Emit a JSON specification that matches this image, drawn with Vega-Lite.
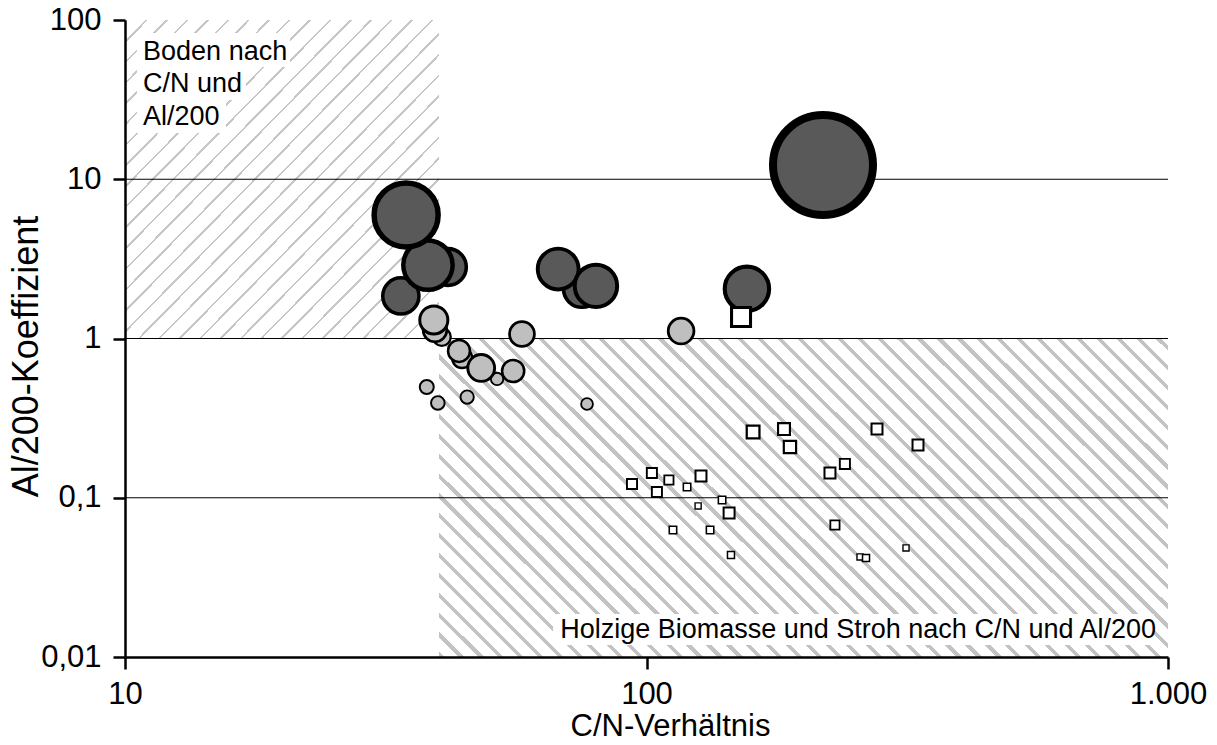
{
  "$schema": "https://vega.github.io/schema/vega-lite/v6.json",
  "width": 1043,
  "height": 637,
  "autosize": {"type": "none"},
  "padding": {"left": 125, "top": 20, "right": 49, "bottom": 88},
  "background": "white",
  "config": {
    "view": {"stroke": null},
    "font": "Liberation Sans",
    "axis": {
      "grid": false,
      "domainColor": "black",
      "domainWidth": 2.5,
      "tickColor": "black",
      "tickWidth": 2.5,
      "tickSize": 12,
      "labelFont": "Liberation Sans",
      "labelFontSize": 31,
      "labelColor": "black",
      "titleFont": "Liberation Sans",
      "titleFontSize": 31,
      "titleFontWeight": "normal",
      "titleColor": "black",
      "labelOverlap": false,
      "labelFlush": false
    }
  },
  "resolve": {"scale": {"strokeWidth": "independent"}},
  "layer": [
    {
      "data": {"values": [{"x1": 10, "x2": 40, "y1": 1, "y2": 100}]},
      "mark": {"type": "rect", "strokeWidth": 0, "fill": {"gradient": "linear", "x1": 0, "y1": 0, "x2": 1, "y2": 1, "stops": [
        {"offset": 0, "color": "#c6c6c6"}, {"offset": 0.004, "color": "#c6c6c6"}, {"offset": 0.004, "color": "#fff"}, {"offset": 0.0325, "color": "#fff"},
        {"offset": 0.0325, "color": "#c6c6c6"}, {"offset": 0.0365, "color": "#c6c6c6"}, {"offset": 0.0365, "color": "#fff"}, {"offset": 0.065, "color": "#fff"},
        {"offset": 0.065, "color": "#c6c6c6"}, {"offset": 0.069, "color": "#c6c6c6"}, {"offset": 0.069, "color": "#fff"}, {"offset": 0.0975, "color": "#fff"},
        {"offset": 0.0975, "color": "#c6c6c6"}, {"offset": 0.1015, "color": "#c6c6c6"}, {"offset": 0.1015, "color": "#fff"}, {"offset": 0.13, "color": "#fff"},
        {"offset": 0.13, "color": "#c6c6c6"}, {"offset": 0.134, "color": "#c6c6c6"}, {"offset": 0.134, "color": "#fff"}, {"offset": 0.1625, "color": "#fff"},
        {"offset": 0.1625, "color": "#c6c6c6"}, {"offset": 0.1665, "color": "#c6c6c6"}, {"offset": 0.1665, "color": "#fff"}, {"offset": 0.195, "color": "#fff"},
        {"offset": 0.195, "color": "#c6c6c6"}, {"offset": 0.199, "color": "#c6c6c6"}, {"offset": 0.199, "color": "#fff"}, {"offset": 0.2275, "color": "#fff"},
        {"offset": 0.2275, "color": "#c6c6c6"}, {"offset": 0.2315, "color": "#c6c6c6"}, {"offset": 0.2315, "color": "#fff"}, {"offset": 0.26, "color": "#fff"},
        {"offset": 0.26, "color": "#c6c6c6"}, {"offset": 0.264, "color": "#c6c6c6"}, {"offset": 0.264, "color": "#fff"}, {"offset": 0.2925, "color": "#fff"},
        {"offset": 0.2925, "color": "#c6c6c6"}, {"offset": 0.2965, "color": "#c6c6c6"}, {"offset": 0.2965, "color": "#fff"}, {"offset": 0.325, "color": "#fff"},
        {"offset": 0.325, "color": "#c6c6c6"}, {"offset": 0.329, "color": "#c6c6c6"}, {"offset": 0.329, "color": "#fff"}, {"offset": 0.3575, "color": "#fff"},
        {"offset": 0.3575, "color": "#c6c6c6"}, {"offset": 0.3615, "color": "#c6c6c6"}, {"offset": 0.3615, "color": "#fff"}, {"offset": 0.39, "color": "#fff"},
        {"offset": 0.39, "color": "#c6c6c6"}, {"offset": 0.394, "color": "#c6c6c6"}, {"offset": 0.394, "color": "#fff"}, {"offset": 0.4225, "color": "#fff"},
        {"offset": 0.4225, "color": "#c6c6c6"}, {"offset": 0.4265, "color": "#c6c6c6"}, {"offset": 0.4265, "color": "#fff"}, {"offset": 0.455, "color": "#fff"},
        {"offset": 0.455, "color": "#c6c6c6"}, {"offset": 0.459, "color": "#c6c6c6"}, {"offset": 0.459, "color": "#fff"}, {"offset": 0.4875, "color": "#fff"},
        {"offset": 0.4875, "color": "#c6c6c6"}, {"offset": 0.4915, "color": "#c6c6c6"}, {"offset": 0.4915, "color": "#fff"}, {"offset": 0.52, "color": "#fff"},
        {"offset": 0.52, "color": "#c6c6c6"}, {"offset": 0.524, "color": "#c6c6c6"}, {"offset": 0.524, "color": "#fff"}, {"offset": 0.5525, "color": "#fff"},
        {"offset": 0.5525, "color": "#c6c6c6"}, {"offset": 0.5565, "color": "#c6c6c6"}, {"offset": 0.5565, "color": "#fff"}, {"offset": 0.585, "color": "#fff"},
        {"offset": 0.585, "color": "#c6c6c6"}, {"offset": 0.589, "color": "#c6c6c6"}, {"offset": 0.589, "color": "#fff"}, {"offset": 0.6175, "color": "#fff"},
        {"offset": 0.6175, "color": "#c6c6c6"}, {"offset": 0.6215, "color": "#c6c6c6"}, {"offset": 0.6215, "color": "#fff"}, {"offset": 0.65, "color": "#fff"},
        {"offset": 0.65, "color": "#c6c6c6"}, {"offset": 0.654, "color": "#c6c6c6"}, {"offset": 0.654, "color": "#fff"}, {"offset": 0.6825, "color": "#fff"},
        {"offset": 0.6825, "color": "#c6c6c6"}, {"offset": 0.6865, "color": "#c6c6c6"}, {"offset": 0.6865, "color": "#fff"}, {"offset": 0.715, "color": "#fff"},
        {"offset": 0.715, "color": "#c6c6c6"}, {"offset": 0.719, "color": "#c6c6c6"}, {"offset": 0.719, "color": "#fff"}, {"offset": 0.7475, "color": "#fff"},
        {"offset": 0.7475, "color": "#c6c6c6"}, {"offset": 0.7515, "color": "#c6c6c6"}, {"offset": 0.7515, "color": "#fff"}, {"offset": 0.78, "color": "#fff"},
        {"offset": 0.78, "color": "#c6c6c6"}, {"offset": 0.784, "color": "#c6c6c6"}, {"offset": 0.784, "color": "#fff"}, {"offset": 0.8125, "color": "#fff"},
        {"offset": 0.8125, "color": "#c6c6c6"}, {"offset": 0.8165, "color": "#c6c6c6"}, {"offset": 0.8165, "color": "#fff"}, {"offset": 0.845, "color": "#fff"},
        {"offset": 0.845, "color": "#c6c6c6"}, {"offset": 0.849, "color": "#c6c6c6"}, {"offset": 0.849, "color": "#fff"}, {"offset": 0.8775, "color": "#fff"},
        {"offset": 0.8775, "color": "#c6c6c6"}, {"offset": 0.8815, "color": "#c6c6c6"}, {"offset": 0.8815, "color": "#fff"}, {"offset": 0.91, "color": "#fff"},
        {"offset": 0.91, "color": "#c6c6c6"}, {"offset": 0.914, "color": "#c6c6c6"}, {"offset": 0.914, "color": "#fff"}, {"offset": 0.9425, "color": "#fff"},
        {"offset": 0.9425, "color": "#c6c6c6"}, {"offset": 0.9465, "color": "#c6c6c6"}, {"offset": 0.9465, "color": "#fff"}, {"offset": 0.975, "color": "#fff"},
        {"offset": 0.975, "color": "#c6c6c6"}, {"offset": 0.979, "color": "#c6c6c6"}, {"offset": 0.979, "color": "#fff"}, {"offset": 1, "color": "#fff"}
      ]}},
      "encoding": {
        "x": {"field": "x1", "type": "quantitative", "scale": {"type": "log", "domain": [10, 1000]}, "title": "C/N-Verhältnis"},
        "x2": {"field": "x2"},
        "y": {"field": "y1", "type": "quantitative", "scale": {"type": "log", "domain": [0.01, 100]}, "title": "Al/200-Koeffizient"},
        "y2": {"field": "y2"}
      }
    },
    {
      "data": {"values": [{"x1": 40, "x2": 1000, "y1": 0.01, "y2": 1}]},
      "mark": {"type": "rect", "strokeWidth": 0, "fill": {"gradient": "linear", "x1": 0, "y1": 1, "x2": 1.2066, "y2": 0.4713, "stops": [
        {"offset": 0, "color": "#c3c3c3"}, {"offset": 0.005, "color": "#c3c3c3"}, {"offset": 0.005, "color": "#fff"}, {"offset": 0.019, "color": "#fff"},
        {"offset": 0.019, "color": "#c3c3c3"}, {"offset": 0.024, "color": "#c3c3c3"}, {"offset": 0.024, "color": "#fff"}, {"offset": 0.038, "color": "#fff"},
        {"offset": 0.038, "color": "#c3c3c3"}, {"offset": 0.043, "color": "#c3c3c3"}, {"offset": 0.043, "color": "#fff"}, {"offset": 0.057, "color": "#fff"},
        {"offset": 0.057, "color": "#c3c3c3"}, {"offset": 0.062, "color": "#c3c3c3"}, {"offset": 0.062, "color": "#fff"}, {"offset": 0.076, "color": "#fff"},
        {"offset": 0.076, "color": "#c3c3c3"}, {"offset": 0.081, "color": "#c3c3c3"}, {"offset": 0.081, "color": "#fff"}, {"offset": 0.095, "color": "#fff"},
        {"offset": 0.095, "color": "#c3c3c3"}, {"offset": 0.1, "color": "#c3c3c3"}, {"offset": 0.1, "color": "#fff"}, {"offset": 0.114, "color": "#fff"},
        {"offset": 0.114, "color": "#c3c3c3"}, {"offset": 0.119, "color": "#c3c3c3"}, {"offset": 0.119, "color": "#fff"}, {"offset": 0.133, "color": "#fff"},
        {"offset": 0.133, "color": "#c3c3c3"}, {"offset": 0.138, "color": "#c3c3c3"}, {"offset": 0.138, "color": "#fff"}, {"offset": 0.152, "color": "#fff"},
        {"offset": 0.152, "color": "#c3c3c3"}, {"offset": 0.157, "color": "#c3c3c3"}, {"offset": 0.157, "color": "#fff"}, {"offset": 0.171, "color": "#fff"},
        {"offset": 0.171, "color": "#c3c3c3"}, {"offset": 0.176, "color": "#c3c3c3"}, {"offset": 0.176, "color": "#fff"}, {"offset": 0.19, "color": "#fff"},
        {"offset": 0.19, "color": "#c3c3c3"}, {"offset": 0.195, "color": "#c3c3c3"}, {"offset": 0.195, "color": "#fff"}, {"offset": 0.209, "color": "#fff"},
        {"offset": 0.209, "color": "#c3c3c3"}, {"offset": 0.214, "color": "#c3c3c3"}, {"offset": 0.214, "color": "#fff"}, {"offset": 0.228, "color": "#fff"},
        {"offset": 0.228, "color": "#c3c3c3"}, {"offset": 0.233, "color": "#c3c3c3"}, {"offset": 0.233, "color": "#fff"}, {"offset": 0.247, "color": "#fff"},
        {"offset": 0.247, "color": "#c3c3c3"}, {"offset": 0.252, "color": "#c3c3c3"}, {"offset": 0.252, "color": "#fff"}, {"offset": 0.266, "color": "#fff"},
        {"offset": 0.266, "color": "#c3c3c3"}, {"offset": 0.271, "color": "#c3c3c3"}, {"offset": 0.271, "color": "#fff"}, {"offset": 0.285, "color": "#fff"},
        {"offset": 0.285, "color": "#c3c3c3"}, {"offset": 0.29, "color": "#c3c3c3"}, {"offset": 0.29, "color": "#fff"}, {"offset": 0.304, "color": "#fff"},
        {"offset": 0.304, "color": "#c3c3c3"}, {"offset": 0.309, "color": "#c3c3c3"}, {"offset": 0.309, "color": "#fff"}, {"offset": 0.323, "color": "#fff"},
        {"offset": 0.323, "color": "#c3c3c3"}, {"offset": 0.328, "color": "#c3c3c3"}, {"offset": 0.328, "color": "#fff"}, {"offset": 0.342, "color": "#fff"},
        {"offset": 0.342, "color": "#c3c3c3"}, {"offset": 0.347, "color": "#c3c3c3"}, {"offset": 0.347, "color": "#fff"}, {"offset": 0.361, "color": "#fff"},
        {"offset": 0.361, "color": "#c3c3c3"}, {"offset": 0.366, "color": "#c3c3c3"}, {"offset": 0.366, "color": "#fff"}, {"offset": 0.38, "color": "#fff"},
        {"offset": 0.38, "color": "#c3c3c3"}, {"offset": 0.385, "color": "#c3c3c3"}, {"offset": 0.385, "color": "#fff"}, {"offset": 0.399, "color": "#fff"},
        {"offset": 0.399, "color": "#c3c3c3"}, {"offset": 0.404, "color": "#c3c3c3"}, {"offset": 0.404, "color": "#fff"}, {"offset": 0.418, "color": "#fff"},
        {"offset": 0.418, "color": "#c3c3c3"}, {"offset": 0.423, "color": "#c3c3c3"}, {"offset": 0.423, "color": "#fff"}, {"offset": 0.437, "color": "#fff"},
        {"offset": 0.437, "color": "#c3c3c3"}, {"offset": 0.442, "color": "#c3c3c3"}, {"offset": 0.442, "color": "#fff"}, {"offset": 0.456, "color": "#fff"},
        {"offset": 0.456, "color": "#c3c3c3"}, {"offset": 0.461, "color": "#c3c3c3"}, {"offset": 0.461, "color": "#fff"}, {"offset": 0.475, "color": "#fff"},
        {"offset": 0.475, "color": "#c3c3c3"}, {"offset": 0.48, "color": "#c3c3c3"}, {"offset": 0.48, "color": "#fff"}, {"offset": 0.494, "color": "#fff"},
        {"offset": 0.494, "color": "#c3c3c3"}, {"offset": 0.499, "color": "#c3c3c3"}, {"offset": 0.499, "color": "#fff"}, {"offset": 0.513, "color": "#fff"},
        {"offset": 0.513, "color": "#c3c3c3"}, {"offset": 0.518, "color": "#c3c3c3"}, {"offset": 0.518, "color": "#fff"}, {"offset": 0.532, "color": "#fff"},
        {"offset": 0.532, "color": "#c3c3c3"}, {"offset": 0.537, "color": "#c3c3c3"}, {"offset": 0.537, "color": "#fff"}, {"offset": 0.551, "color": "#fff"},
        {"offset": 0.551, "color": "#c3c3c3"}, {"offset": 0.556, "color": "#c3c3c3"}, {"offset": 0.556, "color": "#fff"}, {"offset": 0.57, "color": "#fff"},
        {"offset": 0.57, "color": "#c3c3c3"}, {"offset": 0.575, "color": "#c3c3c3"}, {"offset": 0.575, "color": "#fff"}, {"offset": 0.589, "color": "#fff"},
        {"offset": 0.589, "color": "#c3c3c3"}, {"offset": 0.594, "color": "#c3c3c3"}, {"offset": 0.594, "color": "#fff"}, {"offset": 0.608, "color": "#fff"},
        {"offset": 0.608, "color": "#c3c3c3"}, {"offset": 0.613, "color": "#c3c3c3"}, {"offset": 0.613, "color": "#fff"}, {"offset": 0.627, "color": "#fff"},
        {"offset": 0.627, "color": "#c3c3c3"}, {"offset": 0.632, "color": "#c3c3c3"}, {"offset": 0.632, "color": "#fff"}, {"offset": 0.646, "color": "#fff"},
        {"offset": 0.646, "color": "#c3c3c3"}, {"offset": 0.651, "color": "#c3c3c3"}, {"offset": 0.651, "color": "#fff"}, {"offset": 0.665, "color": "#fff"},
        {"offset": 0.665, "color": "#c3c3c3"}, {"offset": 0.67, "color": "#c3c3c3"}, {"offset": 0.67, "color": "#fff"}, {"offset": 0.684, "color": "#fff"},
        {"offset": 0.684, "color": "#c3c3c3"}, {"offset": 0.689, "color": "#c3c3c3"}, {"offset": 0.689, "color": "#fff"}, {"offset": 0.703, "color": "#fff"},
        {"offset": 0.703, "color": "#c3c3c3"}, {"offset": 0.708, "color": "#c3c3c3"}, {"offset": 0.708, "color": "#fff"}, {"offset": 0.722, "color": "#fff"},
        {"offset": 0.722, "color": "#c3c3c3"}, {"offset": 0.727, "color": "#c3c3c3"}, {"offset": 0.727, "color": "#fff"}, {"offset": 0.741, "color": "#fff"},
        {"offset": 0.741, "color": "#c3c3c3"}, {"offset": 0.746, "color": "#c3c3c3"}, {"offset": 0.746, "color": "#fff"}, {"offset": 0.76, "color": "#fff"},
        {"offset": 0.76, "color": "#c3c3c3"}, {"offset": 0.765, "color": "#c3c3c3"}, {"offset": 0.765, "color": "#fff"}, {"offset": 0.779, "color": "#fff"},
        {"offset": 0.779, "color": "#c3c3c3"}, {"offset": 0.784, "color": "#c3c3c3"}, {"offset": 0.784, "color": "#fff"}, {"offset": 0.798, "color": "#fff"},
        {"offset": 0.798, "color": "#c3c3c3"}, {"offset": 0.803, "color": "#c3c3c3"}, {"offset": 0.803, "color": "#fff"}, {"offset": 0.817, "color": "#fff"},
        {"offset": 0.817, "color": "#c3c3c3"}, {"offset": 0.822, "color": "#c3c3c3"}, {"offset": 0.822, "color": "#fff"}, {"offset": 0.836, "color": "#fff"},
        {"offset": 0.836, "color": "#c3c3c3"}, {"offset": 0.841, "color": "#c3c3c3"}, {"offset": 0.841, "color": "#fff"}, {"offset": 0.855, "color": "#fff"},
        {"offset": 0.855, "color": "#c3c3c3"}, {"offset": 0.86, "color": "#c3c3c3"}, {"offset": 0.86, "color": "#fff"}, {"offset": 0.874, "color": "#fff"},
        {"offset": 0.874, "color": "#c3c3c3"}, {"offset": 0.879, "color": "#c3c3c3"}, {"offset": 0.879, "color": "#fff"}, {"offset": 0.893, "color": "#fff"},
        {"offset": 0.893, "color": "#c3c3c3"}, {"offset": 0.898, "color": "#c3c3c3"}, {"offset": 0.898, "color": "#fff"}, {"offset": 0.912, "color": "#fff"},
        {"offset": 0.912, "color": "#c3c3c3"}, {"offset": 0.917, "color": "#c3c3c3"}, {"offset": 0.917, "color": "#fff"}, {"offset": 0.931, "color": "#fff"},
        {"offset": 0.931, "color": "#c3c3c3"}, {"offset": 0.936, "color": "#c3c3c3"}, {"offset": 0.936, "color": "#fff"}, {"offset": 0.95, "color": "#fff"},
        {"offset": 0.95, "color": "#c3c3c3"}, {"offset": 0.955, "color": "#c3c3c3"}, {"offset": 0.955, "color": "#fff"}, {"offset": 0.969, "color": "#fff"},
        {"offset": 0.969, "color": "#c3c3c3"}, {"offset": 0.974, "color": "#c3c3c3"}, {"offset": 0.974, "color": "#fff"}, {"offset": 0.988, "color": "#fff"},
        {"offset": 0.988, "color": "#c3c3c3"}, {"offset": 0.993, "color": "#c3c3c3"}, {"offset": 0.993, "color": "#fff"}, {"offset": 1, "color": "#fff"}
      ]}},
      "encoding": {
        "x": {"field": "x1", "type": "quantitative", "scale": {"type": "log", "domain": [10, 1000]}, "title": "C/N-Verhältnis"},
        "x2": {"field": "x2"},
        "y": {"field": "y1", "type": "quantitative", "scale": {"type": "log", "domain": [0.01, 100]}, "title": "Al/200-Koeffizient"},
        "y2": {"field": "y2"}
      }
    },
    {
      "mark": {"type": "rule", "color": "#a6a6a6", "strokeWidth": 2.5},
      "encoding": {"x": {"datum": 40, "type": "quantitative", "scale": {"type": "log", "domain": [10, 1000]}, "title": "C/N-Verhältnis"}}
    },
    {
      "mark": {"type": "rule", "color": "#a6a6a6", "strokeWidth": 2.5},
      "encoding": {"y": {"datum": 1, "type": "quantitative", "scale": {"type": "log", "domain": [0.01, 100]}, "title": "Al/200-Koeffizient"}}
    },
    {
      "data": {"values": [{"g": 10}, {"g": 1}, {"g": 0.1}]},
      "mark": {"type": "rule", "color": "black", "strokeWidth": 1},
      "encoding": {"y": {"field": "g", "type": "quantitative", "scale": {"type": "log", "domain": [0.01, 100]}, "title": "Al/200-Koeffizient"}}
    },
    {
      "data": {"values": [
        {"x1": 10.54, "x2": 20.72, "y1": 50.7, "y2": 82.8},
        {"x1": 10.54, "x2": 17.06, "y1": 31.5, "y2": 50.7},
        {"x1": 10.54, "x2": 15.62, "y1": 19.5, "y2": 31.5},
        {"x1": 66.2, "x2": 940, "y1": 0.0119, "y2": 0.01862}
      ]},
      "mark": {"type": "rect", "fill": "white", "strokeWidth": 0},
      "encoding": {
        "x": {"field": "x1", "type": "quantitative", "scale": {"type": "log", "domain": [10, 1000]}, "title": "C/N-Verhältnis"},
        "x2": {"field": "x2"},
        "y": {"field": "y1", "type": "quantitative", "scale": {"type": "log", "domain": [0.01, 100]}, "title": "Al/200-Koeffizient"},
        "y2": {"field": "y2"}
      }
    },
    {
      "data": {"values": [
        {"t": "Boden nach", "x": 10.83, "y": 56.1},
        {"t": "C/N und", "x": 10.83, "y": 35.3},
        {"t": "Al/200", "x": 10.83, "y": 21.9},
        {"t": "Holzige Biomasse und Stroh nach C/N und Al/200", "x": 68.3, "y": 0.01316}
      ]},
      "mark": {"type": "text", "font": "Liberation Sans", "fontSize": 27, "align": "left", "baseline": "alphabetic", "color": "black"},
      "encoding": {
        "x": {"field": "x", "type": "quantitative", "scale": {"type": "log", "domain": [10, 1000]}, "title": "C/N-Verhältnis"},
        "y": {"field": "y", "type": "quantitative", "scale": {"type": "log", "domain": [0.01, 100]}, "title": "Al/200-Koeffizient"},
        "text": {"field": "t"}
      }
    },
    {
      "data": {"values": [
        {"cn": 218.0, "al": 12.29, "v": 100, "typ": "dunkel"},
        {"cn": 34.6, "al": 5.97, "v": 41, "typ": "dunkel"},
        {"cn": 38.1, "al": 2.89, "v": 24.4, "typ": "dunkel"},
        {"cn": 41.6, "al": 2.81, "v": 13.6, "typ": "dunkel"},
        {"cn": 33.8, "al": 1.85, "v": 13.1, "typ": "dunkel"},
        {"cn": 67.7, "al": 2.73, "v": 16.7, "typ": "dunkel"},
        {"cn": 75.2, "al": 2.05, "v": 13.6, "typ": "dunkel"},
        {"cn": 80.0, "al": 2.14, "v": 18, "typ": "dunkel"},
        {"cn": 155.8, "al": 2.05, "v": 19.7, "typ": "dunkel"},
        {"cn": 39.1, "al": 1.307, "v": 7.9, "typ": "hell"},
        {"cn": 39.3, "al": 1.131, "v": 5.6, "typ": "hell"},
        {"cn": 40.5, "al": 1.022, "v": 3.2, "typ": "hell"},
        {"cn": 43.7, "al": 0.835, "v": 4.8, "typ": "hell"},
        {"cn": 44.3, "al": 0.754, "v": 4.0, "typ": "hell"},
        {"cn": 48.2, "al": 0.653, "v": 7.2, "typ": "hell"},
        {"cn": 51.7, "al": 0.557, "v": 1.54, "typ": "hell"},
        {"cn": 55.5, "al": 0.625, "v": 4.9, "typ": "hell"},
        {"cn": 57.7, "al": 1.067, "v": 6.2, "typ": "hell"},
        {"cn": 116.5, "al": 1.114, "v": 6.6, "typ": "hell"},
        {"cn": 37.9, "al": 0.496, "v": 1.96, "typ": "hell"},
        {"cn": 39.8, "al": 0.394, "v": 1.85, "typ": "hell"},
        {"cn": 45.3, "al": 0.429, "v": 1.78, "typ": "hell"},
        {"cn": 76.9, "al": 0.388, "v": 1.4, "typ": "hell"}
      ]},
      "mark": {"type": "point", "shape": "circle", "filled": true, "opacity": 1, "stroke": "black"},
      "encoding": {
        "x": {"field": "cn", "type": "quantitative", "scale": {"type": "log", "domain": [10, 1000]}, "title": "C/N-Verhältnis",
          "axis": {"zindex": 2, "values": [10, 100, 1000], "labelExpr": "datum.value == 1000 ? '1.000' : '' + datum.value", "labelPadding": 34, "labelBaseline": "alphabetic", "titleX": 545, "titleY": 78, "titleBaseline": "alphabetic", "titleAlign": "center", "titleAnchor": null}},
        "y": {"field": "al", "type": "quantitative", "scale": {"type": "log", "domain": [0.01, 100]}, "title": "Al/200-Koeffizient",
          "axis": {"zindex": 2, "values": [0.01, 0.1, 1, 10, 100], "labelExpr": "replace('' + datum.value, '.', ',')", "labelPadding": 12, "labelBaseline": "middle", "titleFontSize": 36, "titleAngle": 270, "titleX": -88, "titleY": 336, "titleBaseline": "alphabetic", "titleAlign": "center", "titleAnchor": null}},
        "fill": {"field": "typ", "type": "nominal", "scale": {"domain": ["dunkel", "hell"], "range": ["#595959", "#bfbfbf"]}, "legend": null},
        "size": {"field": "v", "type": "quantitative", "scale": {"type": "linear", "domain": [0, 100], "range": [0, 10000]}, "legend": null},
        "strokeWidth": {"field": "v", "type": "quantitative", "scale": {"type": "sqrt", "domain": [0, 100], "range": [1, 8]}, "legend": null},
        "order": {"field": "v", "type": "quantitative", "sort": "ascending"}
      }
    },
    {
      "data": {"values": [
        {"cn": 151.8, "al": 1.365, "v": 3.6},
        {"cn": 93.8, "al": 0.122, "v": 1.02},
        {"cn": 102.4, "al": 0.143, "v": 1.02},
        {"cn": 104.7, "al": 0.1087, "v": 1.02},
        {"cn": 110.4, "al": 0.1292, "v": 0.85},
        {"cn": 119.6, "al": 0.1168, "v": 0.55},
        {"cn": 127.2, "al": 0.137, "v": 1.2},
        {"cn": 125.6, "al": 0.0888, "v": 0.37},
        {"cn": 139.6, "al": 0.0968, "v": 0.55},
        {"cn": 144.0, "al": 0.0802, "v": 1.2},
        {"cn": 112.4, "al": 0.0627, "v": 0.55},
        {"cn": 132.4, "al": 0.0627, "v": 0.55},
        {"cn": 145.2, "al": 0.0437, "v": 0.49},
        {"cn": 160.1, "al": 0.2588, "v": 1.62},
        {"cn": 183.5, "al": 0.27, "v": 1.41},
        {"cn": 188.4, "al": 0.2084, "v": 1.51},
        {"cn": 276.7, "al": 0.27, "v": 1.2},
        {"cn": 331.6, "al": 0.2145, "v": 1.2},
        {"cn": 224.8, "al": 0.143, "v": 1.2},
        {"cn": 240.1, "al": 0.163, "v": 1.02},
        {"cn": 229.8, "al": 0.0674, "v": 0.85},
        {"cn": 256.7, "al": 0.0425, "v": 0.37},
        {"cn": 263.6, "al": 0.0418, "v": 0.49},
        {"cn": 314.5, "al": 0.0484, "v": 0.37}
      ]},
      "mark": {"type": "point", "shape": "square", "filled": true, "opacity": 1, "fill": "white", "stroke": "black"},
      "encoding": {
        "x": {"field": "cn", "type": "quantitative", "scale": {"type": "log", "domain": [10, 1000]}, "title": "C/N-Verhältnis"},
        "y": {"field": "al", "type": "quantitative", "scale": {"type": "log", "domain": [0.01, 100]}, "title": "Al/200-Koeffizient"},
        "size": {"field": "v", "type": "quantitative", "scale": {"type": "linear", "domain": [0, 100], "range": [0, 10000]}, "legend": null},
        "strokeWidth": {"field": "v", "type": "quantitative", "scale": {"type": "sqrt", "domain": [0, 100], "range": [0.6, 13.6]}, "legend": null}
      }
    },
    {
      "mark": {"type": "rule", "color": "black", "strokeWidth": 2.5},
      "encoding": {"y": {"datum": 100, "type": "quantitative", "scale": {"type": "log", "domain": [0.01, 100]}, "title": "Al/200-Koeffizient"}}
    },
    {
      "mark": {"type": "rule", "color": "black", "strokeWidth": 2.5},
      "encoding": {"x": {"datum": 1000, "type": "quantitative", "scale": {"type": "log", "domain": [10, 1000]}, "title": "C/N-Verhältnis"}}
    }
  ]
}
